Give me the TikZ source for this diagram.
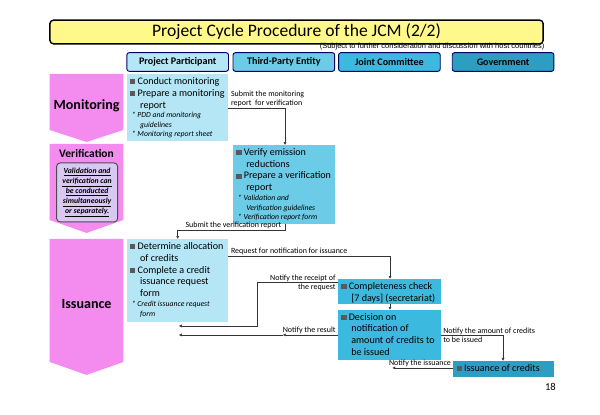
\documentclass[tikz,border=0pt]{standalone}
\usepackage{fontspec}
\setmainfont{Carlito}
\setsansfont{Liberation Sans}
\usetikzlibrary{positioning,arrows.meta}
\definecolor{pink1}{HTML}{F48CF0}
\definecolor{pp}{HTML}{B4E6F6}
\definecolor{tpe}{HTML}{6CCBE6}
\definecolor{jc}{HTML}{3BB9DE}
\definecolor{gov}{HTML}{2C9EC2}
\definecolor{lav}{HTML}{D9C8F2}
\newcommand{\itm}{\textcolor{black!65}{\rule{4.5pt}{4.5pt}}\ }
\newcommand{\ind}{\hspace*{8.6pt}}
\newcommand{\refnote}[1]{{\fontsize{6.6}{7.6}\selectfont\itshape #1}}
\tikzset{
  head/.style={draw=blue!40!black, rounded corners=2pt, minimum width=3.05cm, minimum height=0.56cm, font=\bfseries\fontsize{8.6}{10}\selectfont, thick},
  task/.style={anchor=north west, align=left, inner sep=2.5pt, font=\fontsize{8.6}{10.2}\selectfont},
  phase/.style={fill=pink1, draw=none},
  flow/.style={-{Latex[length=2.5pt,width=2.5pt]}, black!80, thin},
  lbl/.style={font=\fontsize{6.8}{7.6}\selectfont, inner sep=1pt, align=left}
}
\begin{document}
\begin{tikzpicture}[x=0.03462cm,y=-0.03cm]
 \useasboundingbox (0,0) rectangle (520,415);
 % title
 \node[draw, very thick, fill=yellow!45, rounded corners=3pt, minimum width=14.8cm, minimum height=0.58cm, font=\fontsize{15}{16}\selectfont] (title) at (257,32) {Project Cycle Procedure of the JCM (2/2)};
 \node[anchor=north east, font=\sffamily\fontsize{6.4}{7}\selectfont, inner sep=0pt] (note) at (472,43) {(Subject to further consideration and discussion with host countries)};
 % columns
 \node[head, fill=pp]  (pp)  at (154,62) {Project Participant};
 \node[head, fill=tpe] (tpe) at (246,62) {Third-Party Entity};
 \node[head, fill=jc]  (jc)  at (337.5,62) {Joint Committee};
 \node[head, fill=gov] (gov) at (436,62) {Government};
 % phases
 \fill[phase] (43,74) -- (107,74) -- (107,130) -- (75,142) -- (43,130) -- cycle;
 \fill[phase] (43,144) -- (107,144) -- (107,220) -- (75,233) -- (43,220) -- cycle;
 \fill[phase] (43,239) -- (107,239) -- (107,362) -- (75,375) -- (43,362) -- cycle;
 \node[font=\bfseries\fontsize{12}{13}\selectfont] (mon) at (75,106) {Monitoring};
 \node[font=\bfseries\fontsize{9.8}{11}\selectfont] (ver) at (75,154) {Verification};
 \node[draw=black!70, fill=lav, rounded corners=3pt, thick, minimum width=1.83cm, minimum height=1.77cm, align=center, inner sep=1pt,
   font=\bfseries\itshape\fontsize{6.6}{8.4}\selectfont] (vnote) at (75.5,192.5)
   {\underline{Validation and}\\\underline{verification can}\\\underline{be conducted}\\\underline{simultaneously}\\\underline{or separately.}};
 \node[font=\bfseries\fontsize{12}{13}\selectfont] (iss) at (75,304) {Issuance};
 % boxes
 \fill[pp] (110,74) rectangle (198,141);
 \node[task] (monbox) at (110,74) {\itm Conduct monitoring\\\itm Prepare a monitoring\\\ind report\\[-2pt]
   \refnote{\ * PDD and monitoring}\\[-2pt]\refnote{\ind guidelines}\\[-2pt]\refnote{\ * Monitoring report sheet}};
 \fill[tpe] (202,145) rectangle (290,224);
 \node[task] (verbox) at (202,145) {\itm Verify emission\\\ind reductions\\\itm Prepare a verification\\\ind report\\[-2pt]
   \refnote{\ * Validation and}\\[-2pt]\refnote{\ind Verification guidelines}\\[-2pt]\refnote{\ * Verification report form}};
 \fill[pp] (110,239) rectangle (198,322);
 \node[task] (issbox) at (110,239) {\itm Determine allocation\\\ind of credits\\\itm Complete a credit\\\ind issuance request\\\ind form\\[-2pt]
   \refnote{\ * Credit issuance request}\\[-2pt]\refnote{\ind form}};
 \fill[jc] (293,279) rectangle (382,304);
 \node[task] (check) at (293,279) {\itm Completeness check\\\ind [7 days] (secretariat)};
 \fill[jc] (293,310) rectangle (382,360);
 \node[task] (decide) at (293,310) {\itm Decision on\\\ind notification of\\\ind amount of credits to\\\ind be issued};
 \fill[gov] (393,361) rectangle (480,377);
 \node[task] (credits) at (393,361) {\itm Issuance of credits};
 % connectors
 \coordinate (a1) at (198,108); \coordinate (a2) at (247,145);
 \draw[flow] (a1) -- (a2 |- a1) -- (a2);
 \node[lbl, anchor=south west] (l1) at (199,108) {Submit the monitoring\\report\ \ for verification};
 \coordinate (b1) at (247,224); \coordinate (b2) at (154,239);
 \draw[flow] (b1) -- (247,230) -- (154,230) -- (b2);
 \node[lbl, anchor=south east] (l2) at (245,230) {Submit the verification report};
 \coordinate (c1) at (198,256); \coordinate (c2) at (338,279);
 \draw[flow] (c1) -- (c2 |- c1) -- (c2);
 \node[lbl, anchor=south west] (l3) at (199,256) {Request for notification for issuance};
 \coordinate (d1) at (293,282); \coordinate (d2) at (155,326);
 \draw[flow] (d1) -- (223,282) -- (223,326) -- (d2);
 \node[lbl, anchor=south east, align=right] (l4) at (292,292) {Notify the receipt of\\the request};
 \draw[flow] (338,304) -- (338,310);
 \coordinate (e1) at (293,335); \coordinate (e2) at (155,335);
 \draw[flow] (e1) -- (245,335);
 \draw[flow] (245,335) -- (e2);
 \node[lbl, anchor=south east] (l5) at (292,335) {Notify the result};
 \coordinate (f1) at (382,335); \coordinate (f2) at (436,361);
 \draw[flow] (f1) -- (f2 |- f1) -- (f2);
 \node[lbl, anchor=west] (l6) at (383,335) {Notify the amount of credits\\to be issued};
 \coordinate (g1) at (393,368); \coordinate (g2) at (340,368);
 \draw[flow] (g1) -- (g2);
 \node[lbl, anchor=south east] (l7) at (392,368) {Notify the issuance};
 \node[font=\fontsize{9}{10}\selectfont] (page) at (477,387) {18};
\end{tikzpicture}
\end{document}
